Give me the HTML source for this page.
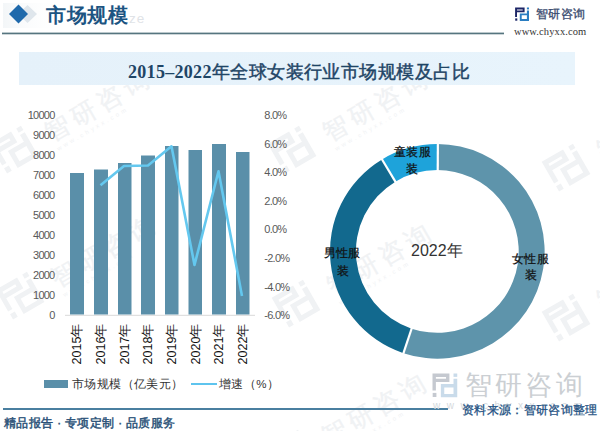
<!DOCTYPE html>
<html><head><meta charset="utf-8">
<style>
html,body{margin:0;padding:0;}
body{width:600px;height:431px;overflow:hidden;background:#fff;position:relative;font-family:"Liberation Sans",sans-serif;}
.abs{position:absolute;white-space:nowrap;}
.xl{font-size:12.5px;color:#111;transform-origin:0 0;transform:rotate(-90deg) translate(-50%,-50%)}
.lg{font-size:11.5px;color:#333;letter-spacing:0.4px}
.dl{font-size:12px;color:#111;letter-spacing:0.3px;-webkit-text-stroke:0.25px #111}
</style></head><body>
<svg class="abs" style="left:0;top:0" width="600" height="431" viewBox="0 0 600 431">
<defs>
<linearGradient id="bn" x1="0" x2="1" y1="0" y2="0"><stop offset="0" stop-color="#e5f1fa"/><stop offset="1" stop-color="#e8f4fc"/></linearGradient>
<linearGradient id="hb" x1="0" x2="1" y1="0" y2="0"><stop offset="0" stop-color="#f3f6f8"/><stop offset="1" stop-color="#ffffff" stop-opacity="0"/></linearGradient>
</defs>
<g font-family="Liberation Sans, sans-serif">
<g transform="translate(14,150) rotate(-30) scale(1.0)">
<g transform="translate(-18,-17.5) scale(2.6)"><path fill="#f0f2f4" fill-rule="evenodd" d="M0,0 H9.5 V4.8 H1.9 V9.6 H0 Z M1.9,1.9 V2.9 H7.6 V1.9 Z"/><rect fill="#f0f2f4" x="0.1" y="10.9" width="2.1" height="2.3"/>
<rect fill="#f0f2f4" x="11.8" y="0" width="2.1" height="1.9"/><path fill="#f0f2f4" fill-rule="evenodd" d="M11.8,2.9 H13.9 V13.4 H4.7 V5.9 H11.8 Z M6.6,7.8 V11.5 H11.8 V7.8 Z"/></g>
<text x="36" y="11" font-size="25" fill="#f0f2f4" letter-spacing="5" stroke="#f0f2f4" stroke-width="0.3">智研咨询</text>
<text x="38" y="23" font-size="6" fill="#f0f2f4" letter-spacing="3">www.chyxx.com</text>
</g>
<g transform="translate(20,296) rotate(-30) scale(1.0)">
<g transform="translate(-18,-17.5) scale(2.6)"><path fill="#f0f2f4" fill-rule="evenodd" d="M0,0 H9.5 V4.8 H1.9 V9.6 H0 Z M1.9,1.9 V2.9 H7.6 V1.9 Z"/><rect fill="#f0f2f4" x="0.1" y="10.9" width="2.1" height="2.3"/>
<rect fill="#f0f2f4" x="11.8" y="0" width="2.1" height="1.9"/><path fill="#f0f2f4" fill-rule="evenodd" d="M11.8,2.9 H13.9 V13.4 H4.7 V5.9 H11.8 Z M6.6,7.8 V11.5 H11.8 V7.8 Z"/></g>
<text x="36" y="11" font-size="25" fill="#f0f2f4" letter-spacing="5" stroke="#f0f2f4" stroke-width="0.3">智研咨询</text>
<text x="38" y="23" font-size="6" fill="#f0f2f4" letter-spacing="3">www.chyxx.com</text>
</g>
<g transform="translate(292,150) rotate(-30) scale(1.0)">
<g transform="translate(-18,-17.5) scale(2.6)"><path fill="#f0f2f4" fill-rule="evenodd" d="M0,0 H9.5 V4.8 H1.9 V9.6 H0 Z M1.9,1.9 V2.9 H7.6 V1.9 Z"/><rect fill="#f0f2f4" x="0.1" y="10.9" width="2.1" height="2.3"/>
<rect fill="#f0f2f4" x="11.8" y="0" width="2.1" height="1.9"/><path fill="#f0f2f4" fill-rule="evenodd" d="M11.8,2.9 H13.9 V13.4 H4.7 V5.9 H11.8 Z M6.6,7.8 V11.5 H11.8 V7.8 Z"/></g>
<text x="36" y="11" font-size="25" fill="#f0f2f4" letter-spacing="5" stroke="#f0f2f4" stroke-width="0.3">智研咨询</text>
<text x="38" y="23" font-size="6" fill="#f0f2f4" letter-spacing="3">www.chyxx.com</text>
</g>
<g transform="translate(296,304) rotate(-30) scale(1.0)">
<g transform="translate(-18,-17.5) scale(2.6)"><path fill="#f0f2f4" fill-rule="evenodd" d="M0,0 H9.5 V4.8 H1.9 V9.6 H0 Z M1.9,1.9 V2.9 H7.6 V1.9 Z"/><rect fill="#f0f2f4" x="0.1" y="10.9" width="2.1" height="2.3"/>
<rect fill="#f0f2f4" x="11.8" y="0" width="2.1" height="1.9"/><path fill="#f0f2f4" fill-rule="evenodd" d="M11.8,2.9 H13.9 V13.4 H4.7 V5.9 H11.8 Z M6.6,7.8 V11.5 H11.8 V7.8 Z"/></g>
<text x="36" y="11" font-size="25" fill="#f0f2f4" letter-spacing="5" stroke="#f0f2f4" stroke-width="0.3">智研咨询</text>
<text x="38" y="23" font-size="6" fill="#f0f2f4" letter-spacing="3">www.chyxx.com</text>
</g>
<g transform="translate(566,168) rotate(-30) scale(1.0)">
<g transform="translate(-18,-17.5) scale(2.6)"><path fill="#f0f2f4" fill-rule="evenodd" d="M0,0 H9.5 V4.8 H1.9 V9.6 H0 Z M1.9,1.9 V2.9 H7.6 V1.9 Z"/><rect fill="#f0f2f4" x="0.1" y="10.9" width="2.1" height="2.3"/>
<rect fill="#f0f2f4" x="11.8" y="0" width="2.1" height="1.9"/><path fill="#f0f2f4" fill-rule="evenodd" d="M11.8,2.9 H13.9 V13.4 H4.7 V5.9 H11.8 Z M6.6,7.8 V11.5 H11.8 V7.8 Z"/></g>
<text x="36" y="11" font-size="25" fill="#f0f2f4" letter-spacing="5" stroke="#f0f2f4" stroke-width="0.3">智研咨询</text>
<text x="38" y="23" font-size="6" fill="#f0f2f4" letter-spacing="3">www.chyxx.com</text>
</g>
<g transform="translate(566,318) rotate(-30) scale(1.0)">
<g transform="translate(-18,-17.5) scale(2.6)"><path fill="#f0f2f4" fill-rule="evenodd" d="M0,0 H9.5 V4.8 H1.9 V9.6 H0 Z M1.9,1.9 V2.9 H7.6 V1.9 Z"/><rect fill="#f0f2f4" x="0.1" y="10.9" width="2.1" height="2.3"/>
<rect fill="#f0f2f4" x="11.8" y="0" width="2.1" height="1.9"/><path fill="#f0f2f4" fill-rule="evenodd" d="M11.8,2.9 H13.9 V13.4 H4.7 V5.9 H11.8 Z M6.6,7.8 V11.5 H11.8 V7.8 Z"/></g>
<text x="36" y="11" font-size="25" fill="#f0f2f4" letter-spacing="5" stroke="#f0f2f4" stroke-width="0.3">智研咨询</text>
<text x="38" y="23" font-size="6" fill="#f0f2f4" letter-spacing="3">www.chyxx.com</text>
</g>
<g transform="translate(291,454) rotate(-30) scale(1.0)">
<g transform="translate(-18,-17.5) scale(2.6)"><path fill="#f0f2f4" fill-rule="evenodd" d="M0,0 H9.5 V4.8 H1.9 V9.6 H0 Z M1.9,1.9 V2.9 H7.6 V1.9 Z"/><rect fill="#f0f2f4" x="0.1" y="10.9" width="2.1" height="2.3"/>
<rect fill="#f0f2f4" x="11.8" y="0" width="2.1" height="1.9"/><path fill="#f0f2f4" fill-rule="evenodd" d="M11.8,2.9 H13.9 V13.4 H4.7 V5.9 H11.8 Z M6.6,7.8 V11.5 H11.8 V7.8 Z"/></g>
<text x="36" y="11" font-size="25" fill="#f0f2f4" letter-spacing="5" stroke="#f0f2f4" stroke-width="0.3">智研咨询</text>
<text x="38" y="23" font-size="6" fill="#f0f2f4" letter-spacing="3">www.chyxx.com</text>
</g>
</g>
<!-- header -->
<rect x="3" y="3" width="60" height="25" fill="url(#hb)"/>
<polygon points="27.5,5 37,14 27.5,23 18,14" fill="#dfe6ec"/>
<polygon points="18.5,4.5 28,14 18.5,23.5 9,14" fill="#1f69ab"/>
<rect x="2" y="32.6" width="502" height="1.7" fill="#56757f"/>
<g transform="translate(515.1,7.5)"><path fill="#1c2566" fill-rule="evenodd" d="M0,0 H9.5 V4.8 H1.9 V9.6 H0 Z M1.9,1.9 V2.9 H7.6 V1.9 Z"/><rect fill="#1c2566" x="0.1" y="10.9" width="2.1" height="2.3"/>
<rect fill="#2a7dc1" x="11.8" y="0" width="2.1" height="1.9"/><path fill="#2a7dc1" fill-rule="evenodd" d="M11.8,2.9 H13.9 V13.4 H4.7 V5.9 H11.8 Z M6.6,7.8 V11.5 H11.8 V7.8 Z"/></g>
<!-- banner -->
<rect x="19" y="52" width="556" height="33" fill="url(#bn)"/>
<!-- footer line -->
<rect x="3" y="408" width="445" height="2" fill="#4a7fa0"/>
<!-- big watermark bottom right -->
<g transform="translate(432.5,373.5) scale(1.78)"><path fill="#c5c9d0" fill-rule="evenodd" d="M0,0 H9.5 V4.8 H1.9 V9.6 H0 Z M1.9,1.9 V2.9 H7.6 V1.9 Z"/><rect fill="#c5c9d0" x="0.1" y="10.9" width="2.1" height="2.3"/>
<rect fill="#c9dbea" x="11.8" y="0" width="2.1" height="1.9"/><path fill="#c9dbea" fill-rule="evenodd" d="M11.8,2.9 H13.9 V13.4 H4.7 V5.9 H11.8 Z M6.6,7.8 V11.5 H11.8 V7.8 Z"/></g>
<text x="465" y="393.5" font-size="27" fill="#cbcfd3" letter-spacing="3.2">智研咨询</text>
<text x="433" y="409" font-size="10" fill="#d5d9dd" letter-spacing="6.5">www.chyxx.com</text>
<!-- axis -->
<rect x="65" y="314.8" width="190" height="1" fill="#d9d9d9"/>
<g fill="#5a8fa9"><rect x="70" y="173" width="14" height="141.5"/><rect x="94" y="169.5" width="14" height="145.0"/><rect x="118" y="163" width="13.5" height="151.5"/><rect x="141" y="155.5" width="14" height="159.0"/><rect x="165" y="146" width="13.5" height="168.5"/><rect x="188.5" y="150" width="13.5" height="164.5"/><rect x="212" y="144" width="14" height="170.5"/><rect x="236" y="152" width="13.5" height="162.5"/></g>
<polyline points="100.5,185.3 124,166 148,165.5 171.5,146.3 194.5,265 218.5,171.3 242,296" fill="none" stroke="#64c8ef" stroke-width="2.6" stroke-linejoin="round"/>
<g font-size="11" fill="#595959" font-family="Liberation Sans, sans-serif" letter-spacing="-0.75">
<text x="54.5" y="119.0" text-anchor="end">10000</text>
<text x="54.5" y="139.0" text-anchor="end">9000</text>
<text x="54.5" y="159.1" text-anchor="end">8000</text>
<text x="54.5" y="179.1" text-anchor="end">7000</text>
<text x="54.5" y="199.1" text-anchor="end">6000</text>
<text x="54.5" y="219.2" text-anchor="end">5000</text>
<text x="54.5" y="239.2" text-anchor="end">4000</text>
<text x="54.5" y="259.2" text-anchor="end">3000</text>
<text x="54.5" y="279.2" text-anchor="end">2000</text>
<text x="54.5" y="299.3" text-anchor="end">1000</text>
<text x="54.5" y="319.3" text-anchor="end">0</text>
<text x="264.3" y="118.9">8.0%</text>
<text x="264.3" y="147.5">6.0%</text>
<text x="264.3" y="176.1">4.0%</text>
<text x="264.3" y="204.7">2.0%</text>
<text x="264.3" y="233.3">0.0%</text>
<text x="264.3" y="261.9">-2.0%</text>
<text x="264.3" y="290.5">-4.0%</text>
<text x="264.3" y="319.1">-6.0%</text>
</g>
<g transform="translate(437.3,251.4)">
<path d="M0.00,-107.30 A107.30,107.30 0 1 1 -33.87,101.81 L-25.69,77.24 A81.40,81.40 0 1 0 0.00,-81.40 Z" fill="#5e94ab"/>
<path d="M-33.87,101.81 A107.30,107.30 0 0 1 -55.26,-91.97 L-41.92,-69.77 A81.40,81.40 0 0 0 -25.69,77.24 Z" fill="#12698e"/>
<path d="M-55.26,-91.97 A107.30,107.30 0 0 1 -0.00,-107.30 L-0.00,-81.40 A81.40,81.40 0 0 0 -41.92,-69.77 Z" fill="#1ea3da"/>
<g stroke="#fff" stroke-width="2.2"><line x1="0.42" y1="-79.40" x2="0.57" y2="-109.30"/><line x1="-25.06" y1="75.34" x2="-34.50" y2="103.71"/><line x1="-40.89" y1="-68.06" x2="-56.29" y2="-93.69"/></g>
</g>
</svg>

<div class="abs" style="left:129px;top:11px;font-size:13.5px;color:#dfe3e7;letter-spacing:1px">ze</div>
<div class="abs" style="left:46px;top:2px;font-size:20px;font-weight:bold;color:#1c5482;font-family:'Liberation Serif',serif;letter-spacing:0.5px;">市场规模</div>
<div class="abs" style="left:536px;top:6px;font-size:12px;color:#384a6e;letter-spacing:0.3px;-webkit-text-stroke:0.3px #384a6e">智研咨询</div>
<div class="abs" style="left:514px;top:25.5px;font-size:10.5px;color:#333;font-family:'Liberation Serif',serif;letter-spacing:0.1px">www.chyxx.com</div>
<div class="abs" style="left:128px;top:60px;font-size:18px;font-weight:normal;color:#1f4566;font-family:'Liberation Serif',serif;letter-spacing:0.45px;-webkit-text-stroke:0.45px #1f4566"><span style="font-weight:bold;-webkit-text-stroke:0;letter-spacing:0.3px">2015–2022</span>年全球女装行业市场规模及占比</div>

<div class="abs xl" style="left:77.2px;top:344px;">2015年</div>
<div class="abs xl" style="left:100.9px;top:344px;">2016年</div>
<div class="abs xl" style="left:124.6px;top:344px;">2017年</div>
<div class="abs xl" style="left:148.3px;top:344px;">2018年</div>
<div class="abs xl" style="left:172.0px;top:344px;">2019年</div>
<div class="abs xl" style="left:195.7px;top:344px;">2020年</div>
<div class="abs xl" style="left:219.4px;top:344px;">2021年</div>
<div class="abs xl" style="left:243.1px;top:344px;">2022年</div>

<div class="abs" style="left:44px;top:380px;width:24px;height:7.5px;background:#5a8fa9"></div>
<div class="abs lg" style="left:72px;top:377px;">市场规模（亿美元）</div>
<div class="abs" style="left:191px;top:382.5px;width:26px;height:2px;background:#5ec4ee"></div>
<div class="abs lg" style="left:219px;top:377px;">增速（%）</div>

<div class="abs dl" style="left:394px;top:144px;">童装服</div>
<div class="abs dl" style="left:406px;top:161px;">装</div>
<div class="abs dl" style="left:323.5px;top:245px;">男性服</div>
<div class="abs dl" style="left:337px;top:263px;">装</div>
<div class="abs dl" style="left:512px;top:251px;">女性服</div>
<div class="abs dl" style="left:525px;top:267px;">装</div>
<div class="abs" style="left:411px;top:241px;font-size:16px;color:#333">2022年</div>

<div class="abs" style="left:4px;top:416px;font-size:11.5px;color:#2b5278;letter-spacing:0.4px;-webkit-text-stroke:0.45px #2b5278">精品报告 · 专项定制 · 品质服务</div>
<div class="abs" style="left:462px;top:402px;font-size:12px;color:#1f5283;letter-spacing:0.35px;-webkit-text-stroke:0.3px #1f5283">资料来源：智研咨询整理</div>
</body></html>
